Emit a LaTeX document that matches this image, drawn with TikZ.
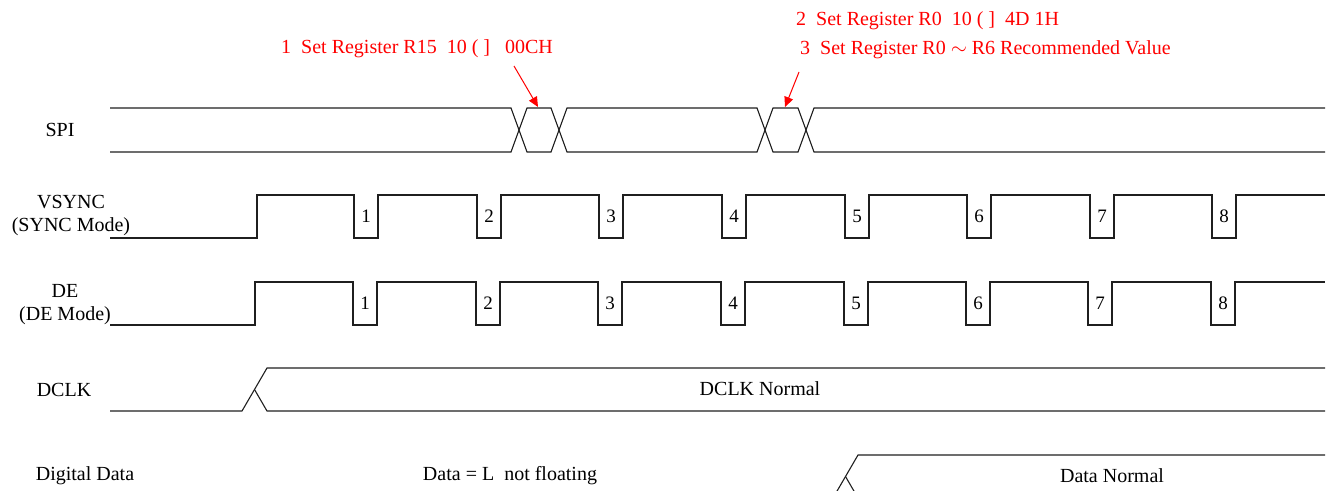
\documentclass[tikz,border=0pt]{standalone}
\usepackage{fontspec}
\setmainfont{Liberation Serif}
\usetikzlibrary{arrows.meta, positioning}
\definecolor{regred}{rgb}{1,0,0}
\definecolor{wave}{rgb}{0.12,0.12,0.12}

\begin{document}
\begin{tikzpicture}[x=1pt,y=-1pt,font=\fontsize{20}{23}\selectfont,
    sig/.style={wave,line width=1.1pt},
    pulsenum/.style={font=\fontsize{19}{19}\selectfont,inner sep=0pt},
    regnote/.style={regred,anchor=west,inner sep=0pt}]
	\useasboundingbox (0,0) rectangle (1332,490);

	%----------------------------------------------------------------
	\node(spi) at (60,130) {SPI};
	\node(vsync) [align=center] at (71,216) {VSYNC\\(SYNC Mode)};
	\node(de) [align=center] at (65,305) {DE\\(DE Mode)};
	\node(dclk) at (64,390) {DCLK};
	\node(digdata) at (85,476) {Digital Data};

	%----------------------------------------------------------------
	\node(note1) [regnote] at (281,49) {1\ \ Set Register R15\ \ 10 ( ]\ \ \ 00CH};
	\node(note2) [regnote] at (796,21) {2\ \ Set Register R0\ \ 10 ( ]\ \ 4D 1H};
	\node(note3) [regnote] at (800,50) {3\ \ Set Register R0 $\sim$ R6\ Recommended Value};

	\coordinate (tail1) at (514,66);
	\coordinate (spi1) at (538,107);
	\coordinate (tail2) at (799,72);
	\coordinate (spi2) at (785,107);
	\draw [regred,line width=1pt,-{Triangle[length=10pt,width=9pt]}] (tail1) -- (spi1);
	\draw [regred,line width=1pt,-{Triangle[length=10pt,width=9pt]}] (tail2) -- (spi2);

	%----------------------------------------------------------------
	\draw [sig] (110,108) -- (511,108) -- (527,152) -- (551,152) -- (567,108)
	  -- (757,108) -- (773,152) -- (798,152) -- (814,108) -- (1325,108);
	\draw [sig] (110,152) -- (511,152) -- (527,108) -- (551,108) -- (567,152)
	  -- (757,152) -- (773,108) -- (798,108) -- (814,152) -- (1325,152);

	%----------------------------------------------------------------
	\draw [sig] (110,238) -- (257,238) -- (257,195)
	  \foreach \x in {354,477,599,722,845,967,1090,1212} {
	    -- (\x,195) -- (\x,238) -- ({\x+24},238) -- ({\x+24},195) }
	  -- (1325,195);
	\foreach \x [count=\i] in {354,477,599,722,845,967,1090,1212}
	  \node(vs\i) [pulsenum] at ({\x+12},216) {\i};

	\draw [sig] (110,325) -- (255,325) -- (255,282)
	  \foreach \x in {353,476,598,721,844,966,1088,1211} {
	    -- (\x,282) -- (\x,325) -- ({\x+24},325) -- ({\x+24},282) }
	  -- (1325,282);
	\foreach \x [count=\i] in {353,476,598,721,844,966,1088,1211}
	  \node(de\i) [pulsenum] at ({\x+12},303) {\i};

	%----------------------------------------------------------------
	\draw [sig] (110,411) -- (242,411) -- (267,368) -- (1325,368);
	\draw [sig] (254.5,389.5) -- (267,411) -- (1325,411);
	\node(dclknormal) at (760,389) {DCLK Normal};

	\draw [sig] (110,498) -- (833,498) -- (858,455) -- (1325,455);
	\draw [sig] (845.5,476.5) -- (858,498) -- (1325,498);
	\node(datalow) at (510,476) {Data = L\ \ not floating};
	\node(datanormal) at (1112,476) {Data Normal};
\end{tikzpicture}
\end{document}
